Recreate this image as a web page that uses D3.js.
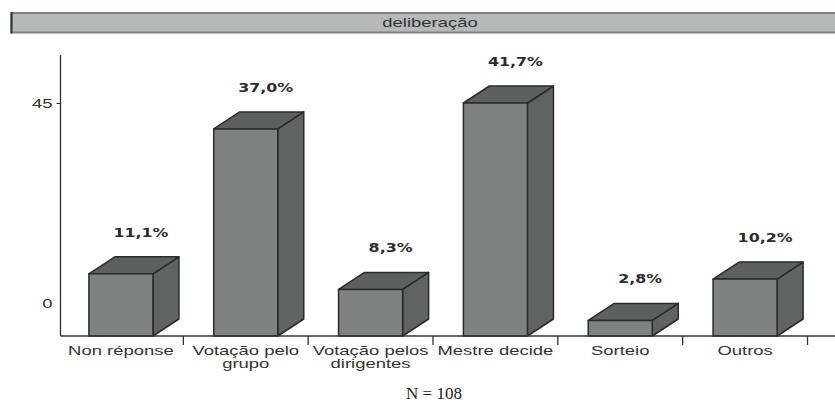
<!DOCTYPE html>
<html>
<head>
<meta charset="utf-8">
<script src="https://cdn.jsdelivr.net/npm/d3@7"></script>
<style>
  html, body { margin: 0; padding: 0; background: #ffffff; }
  svg { display: block; }
</style>
</head>
<body>
<svg id="chart" width="835" height="407"></svg>
<script>
// Respostas sobre a forma de deliberação (contagens, N = 108)
const categories = ["Non réponse", "Votação pelo grupo", "Votação pelos dirigentes", "Mestre decide", "Sorteio", "Outros"];
const categoryLines = [["Non réponse"], ["Votação pelo", "grupo"], ["Votação pelos", "dirigentes"], ["Mestre decide"], ["Sorteio"], ["Outros"]];
const counts = [12, 40, 9, 45, 3, 11];
const percentLabels = ["11,1%", "37,0%", "8,3%", "41,7%", "2,8%", "10,2%"];
const yTicks = [0, 45];
const title = "deliberação";
const footnote = "N = 108";

const svg = d3.select("#chart");
const W = 835, H = 407;

// Layout
const left = 58.5, right = 807.5, baseY = 336, topY = 55;
const depthX = 26, depthY = 17;
const stretch = 1.42; // wide text rendering

const x = d3.scaleBand().domain(categories).range([left, right]).padding(0);
const y = d3.scaleLinear().domain([0, 45]).range([baseY, 103]);
const barW = x.bandwidth() * 0.513;

// Title banner
const banner = svg.append("g");
banner.append("rect")
  .attr("x", 11.5).attr("y", 13).attr("width", W).attr("height", 19.5)
  .attr("fill", "#b5b9b9").attr("stroke", "#7e8282").attr("stroke-width", 2);
banner.append("line")
  .attr("x1", 11.5).attr("x2", 11.5).attr("y1", 12).attr("y2", 33.5)
  .attr("stroke", "#333").attr("stroke-width", 2);
banner.append("text")
  .attr("transform", `translate(430,27) scale(${stretch},1)`)
  .attr("text-anchor", "middle")
  .attr("font-family", "'Liberation Sans', Arial, sans-serif")
  .attr("font-size", 13)
  .attr("fill", "#333")
  .text(title);

// 3D bars
const bars = svg.append("g").selectAll("g.bar")
  .data(categories.map((c, i) => ({ c, v: counts[i], label: percentLabels[i], i })))
  .join("g").attr("class", "bar");

const faceStroke = { stroke: "#2a2c2c", "stroke-width": 1.5, "stroke-linejoin": "round" };

bars.each(function(d) {
  const g = d3.select(this);
  const x0 = x(d.c) + (x.bandwidth() - barW) / 2;
  const x1 = x0 + barW;
  const yt = y(d.v);
  const yb = y(0);
  // side face
  g.append("polygon")
    .attr("points", [[x1, yb], [x1, yt], [x1 + depthX, yt - depthY], [x1 + depthX, yb - depthY]].join(" "))
    .attr("fill", "#5f6363");
  // top face
  g.append("polygon")
    .attr("points", [[x0, yt], [x0 + depthX, yt - depthY], [x1 + depthX, yt - depthY], [x1, yt]].join(" "))
    .attr("fill", "#5c6060");
  // front face
  g.append("rect")
    .attr("x", x0).attr("y", yt).attr("width", barW).attr("height", yb - yt)
    .attr("fill", "#7e8282");
  g.selectAll("polygon, rect").each(function() {
    const s = d3.select(this);
    Object.entries(faceStroke).forEach(([k, v]) => s.attr(k, v));
  });
  // value label
  g.append("text")
    .attr("transform", `translate(${x0 + barW / 2 + 20},${yt - depthY - 20}) scale(1.32,1)`)
    .attr("text-anchor", "middle")
    .attr("font-family", "'DejaVu Sans', Verdana, sans-serif")
    .attr("font-weight", "bold")
    .attr("font-size", 12)
    .attr("fill", "#2b2b2b")
    .text(d.label);
});

// Y axis
const yAxis = svg.append("g")
  .attr("transform", `translate(${left + 2},0)`)
  .call(d3.axisLeft(y).tickValues(yTicks).tickSize(4).tickPadding(4).tickFormat(d3.format("d")));
yAxis.select(".domain").remove();
yAxis.append("line")
  .attr("x1", 0).attr("x2", 0).attr("y1", topY).attr("y2", baseY)
  .attr("stroke", "#333").attr("stroke-width", 1.3);
yAxis.selectAll(".tick line").attr("stroke", "#333");
yAxis.selectAll(".tick text")
  .attr("x", -8 / stretch)
  .attr("transform", `scale(${stretch},1)`)
  .attr("font-family", "'Liberation Sans', Arial, sans-serif")
  .attr("font-size", 13)
  .attr("fill", "#333");
// the zero label sits up on the back wall of the 3D frame
yAxis.selectAll(".tick").filter(d => d === 0).each(function() {
  const t = d3.select(this);
  t.select("line").remove();
  t.select("text").attr("y", -33);
});

// Category axis: baseline, separators and labels
const xAxis = svg.append("g");
xAxis.append("line")
  .attr("x1", left + 2).attr("x2", W).attr("y1", baseY).attr("y2", baseY)
  .attr("stroke", "#333").attr("stroke-width", 1.3);
xAxis.selectAll("line.sep")
  .data(categories)
  .join("line").attr("class", "sep")
  .attr("x1", d => x(d) + x.bandwidth()).attr("x2", d => x(d) + x.bandwidth())
  .attr("y1", baseY).attr("y2", baseY + 9)
  .attr("stroke", "#333").attr("stroke-width", 1.3);

xAxis.selectAll("text.cat")
  .data(categories)
  .join("text").attr("class", "cat")
  .attr("transform", d => `translate(${x(d) + x.bandwidth() / 2},355) scale(${stretch},1)`)
  .attr("text-anchor", "middle")
  .attr("font-family", "'Liberation Sans', Arial, sans-serif")
  .attr("font-size", 13)
  .attr("fill", "#333")
  .each(function(d, i) {
    const t = d3.select(this);
    categoryLines[i].forEach((line, k) => {
      t.append("tspan").attr("x", 0).attr("dy", k === 0 ? 0 : 13).text(line);
    });
  });

// Sample size note
svg.append("text")
  .attr("x", 434).attr("y", 399)
  .attr("text-anchor", "middle")
  .attr("font-family", "'Liberation Serif', 'DejaVu Serif', serif")
  .attr("font-size", 17)
  .attr("fill", "#222")
  .text(footnote);
</script>
</body>
</html>
